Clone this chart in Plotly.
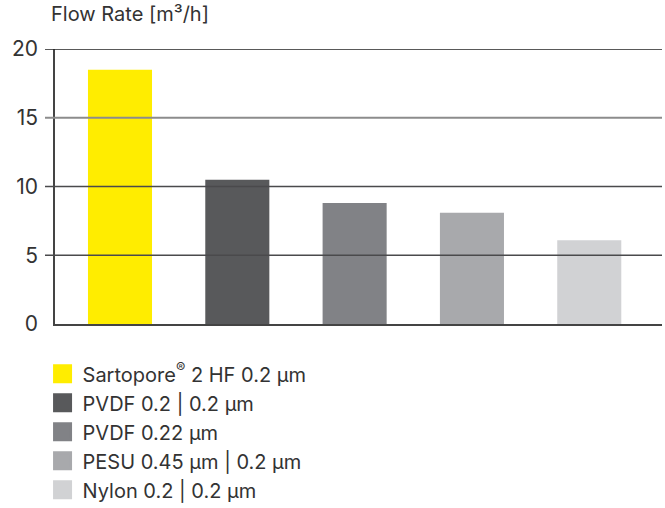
import plotly.graph_objects as go

categories = ["Sartopore<sup>®</sup> 2 HF 0.2 µm", "PVDF 0.2 | 0.2 µm", "PVDF 0.22 µm",
              "PESU 0.45 µm | 0.2 µm", "Nylon 0.2 | 0.2 µm"]
flow_rate = [18.5, 10.5, 8.8, 8.1, 6.1]
bar_colors = ["#ffed00", "#58595b", "#818286", "#a8a9ac", "#d1d2d4"]
y_ticks = [0, 5, 10, 15, 20]
y_tick_labels = ["0", "5", "10", "15", "20"]
grid_values = [5, 10, 15, 20]
grid_colors = ["#4a4a4c", "#4a4a4c", "#8c8c8c", "#222222"]
grid_widths = [1.5, 1.5, 2, 1.5]

FONT = "Inter"
TXT = "#333333"

fig = go.Figure()
fig.add_trace(go.Bar(
    x=list(range(len(categories))), y=flow_rate,
    marker=dict(color=bar_colors, line=dict(width=0)),
    width=0.546, showlegend=False, hoverinfo="y",
))

for i, (name, col) in enumerate(zip(categories, bar_colors)):
    fig.add_trace(go.Scatter(
        x=[None], y=[None], mode="markers", name=name,
        marker=dict(symbol="square", size=16, color=col,
                    line=dict(color=col, width=3)),
    ))

shapes = []
for v, c, w in zip(grid_values, grid_colors, grid_widths):
    shapes.append(dict(type="line", xref="paper", yref="y",
                       x0=-10 / 607, x1=1, y0=v, y1=v,
                       line=dict(color=c, width=w), layer="above"))

fig.update_layout(
    width=665, height=508,
    margin=dict(l=55, r=3, t=49, b=184, autoexpand=False),
    paper_bgcolor="white", plot_bgcolor="white",
    font=dict(family=FONT, size=20, color=TXT),
    shapes=shapes,
    xaxis=dict(range=[-0.554, 4.62], showticklabels=False, ticks="",
               showgrid=False, zeroline=False, showline=True,
               linecolor="#444444", linewidth=2),
    yaxis=dict(range=[0, 20], tickvals=y_ticks, ticktext=y_tick_labels,
               ticks="", showgrid=False, zeroline=False, showline=True,
               linecolor="#444444", linewidth=1.5,
               tickfont=dict(family=FONT, size=21, color=TXT),
               ticklabelstandoff=11),
    legend=dict(x=-0.0205, y=-0.11, xanchor="left", yanchor="top",
                traceorder="normal", tracegroupgap=0,
                font=dict(family=FONT, size=20, color=TXT),
                itemsizing="trace", bgcolor="rgba(0,0,0,0)"),
    annotations=[dict(text="Flow Rate [m³/h]", xref="paper", yref="paper",
                      x=(49 - 55) / 607, y=(324 - 14) / 275,
                      xanchor="left", yanchor="middle", showarrow=False,
                      font=dict(family=FONT, size=20, color=TXT))],
)

fig.write_html("out.html", post_script="document.body.style.margin='0';",
               config={"displayModeBar": False})
